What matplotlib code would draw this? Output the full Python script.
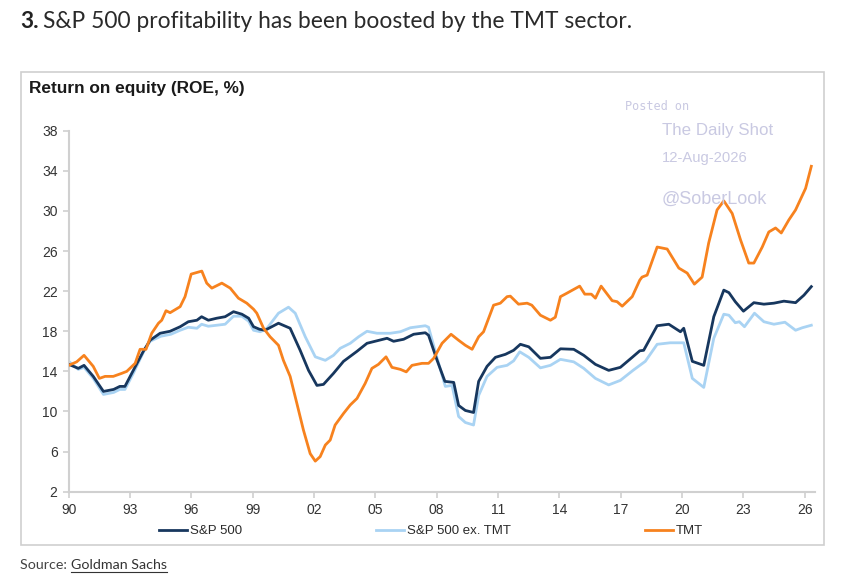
import matplotlib.pyplot as plt
from matplotlib.patches import Rectangle
from matplotlib.lines import Line2D

# ROE, % (decimal years)
sp_years = [1990.0, 1990.47, 1990.75, 1991.2, 1991.7, 1992.2, 1992.5, 1992.75, 1993.16, 1993.65,
            1993.98, 1994.47, 1994.96, 1995.45, 1995.85, 1996.27, 1996.5, 1996.83, 1997.24, 1997.65,
            1998.06, 1998.47, 1998.8, 1999.04, 1999.33, 1999.6, 2000.26, 2000.83, 2001.32, 2001.73,
            2002.14, 2002.46, 2002.95, 2003.44, 2004.1, 2004.59, 2005.08, 2005.57, 2005.89, 2006.38,
            2006.87, 2007.44, 2007.6, 2008.0, 2008.4, 2008.83, 2009.07, 2009.4, 2009.8,
            2010.05, 2010.46, 2010.87, 2011.36, 2011.76, 2012.09, 2012.5, 2013.07, 2013.56, 2014.05,
            2014.7, 2015.19, 2015.76, 2016.41, 2016.98, 2017.56, 2017.93, 2018.12, 2018.78, 2019.35,
            2019.92, 2020.08, 2020.5, 2021.06, 2021.55, 2022.04, 2022.29, 2022.6, 2023.0, 2023.51,
            2024.0, 2024.49, 2024.98, 2025.55, 2025.96, 2026.32]
sp_roe = [14.7, 14.3, 14.6, 13.5, 12.0, 12.2, 12.5, 12.5, 14.1, 16.0,
          17.1, 17.8, 18.0, 18.45, 18.95, 19.1, 19.45, 19.1, 19.3, 19.45,
          19.95, 19.7, 19.3, 18.45, 18.2, 18.1, 18.8, 18.3, 16.1, 14.1,
          12.6, 12.7, 13.8, 15.0, 16.0, 16.8, 17.05, 17.3, 17.0, 17.2,
          17.7, 17.85, 17.6, 15.2, 13.0, 12.9, 10.6, 10.1, 9.9,
          13.0, 14.5, 15.4, 15.7, 16.1, 16.7, 16.45, 15.3, 15.4, 16.25,
          16.2, 15.6, 14.7, 14.1, 14.4, 15.4, 16.05, 16.1, 18.55, 18.7,
          17.95, 18.3, 15.0, 14.6, 19.45, 22.1, 21.85, 20.95, 20.0, 20.85,
          20.7, 20.8, 21.0, 20.85, 21.6, 22.45]

ex_years = [1990.0, 1990.47, 1990.75, 1991.2, 1991.7, 1992.2, 1992.5, 1992.75, 1993.16, 1993.65,
            1993.98, 1994.5, 1995.0, 1995.45, 1995.85, 1996.27, 1996.5, 1996.83, 1997.24, 1997.65,
            1998.06, 1998.47, 1998.8, 1999.04, 1999.37, 1999.7, 2000.26, 2000.75, 2001.08, 2001.57,
            2002.06, 2002.55, 2002.95, 2003.28, 2003.77, 2004.18, 2004.59, 2005.08, 2005.73, 2006.22,
            2006.71, 2007.44, 2007.6, 2008.0, 2008.42, 2008.75, 2009.07, 2009.4, 2009.8, 2010.05,
            2010.46, 2010.95, 2011.44, 2011.76, 2012.06, 2012.5, 2013.07, 2013.56, 2014.05, 2014.7,
            2015.19, 2015.76, 2016.41, 2016.98, 2017.6, 2018.2, 2018.78, 2019.42, 2020.08, 2020.5,
            2021.06, 2021.55, 2022.04, 2022.29, 2022.6, 2022.8, 2023.05, 2023.54, 2024.0, 2024.49,
            2025.03, 2025.55, 2025.88, 2026.32]
ex_roe = [15.0, 14.2, 14.4, 13.3, 11.7, 11.9, 12.2, 12.2, 13.8, 15.9,
          17.0, 17.5, 17.7, 18.1, 18.4, 18.3, 18.7, 18.5, 18.6, 18.7,
          19.5, 19.5, 19.0, 18.1, 17.95, 18.3, 19.8, 20.4, 19.8, 17.45,
          15.45, 15.1, 15.6, 16.3, 16.8, 17.45, 18.0, 17.8, 17.8, 17.95,
          18.35, 18.55, 18.4, 15.45, 12.5, 12.6, 9.5, 8.9, 8.65, 11.6,
          13.5, 14.4, 14.6, 15.05, 15.95, 15.4, 14.35, 14.6, 15.2, 14.95,
          14.3, 13.3, 12.65, 13.1, 14.1, 15.0, 16.7, 16.85, 16.85, 13.3,
          12.4, 17.3, 19.7, 19.6, 18.85, 18.95, 18.45, 19.8, 18.95, 18.7,
          18.9, 18.1, 18.35, 18.6]

tmt_years = [1990.0, 1990.39, 1990.75, 1991.2, 1991.5, 1991.78, 1992.18, 1992.59, 1992.84, 1993.25,
             1993.49, 1993.78, 1994.06, 1994.39, 1994.55, 1994.76, 1994.96, 1995.45, 1995.69, 1995.99,
             1996.51, 1996.75, 1997.0, 1997.49, 1997.9, 1998.3, 1998.71, 1999.04, 1999.2, 1999.53,
             1999.85, 2000.26, 2000.5, 2000.83, 2001.16, 2001.48, 2001.81, 2002.06, 2002.3, 2002.55,
             2002.79, 2003.03, 2003.44, 2003.77, 2004.1, 2004.5, 2004.83, 2005.15, 2005.52, 2005.81,
             2006.22, 2006.51, 2006.79, 2007.28, 2007.6, 2007.85, 2008.26, 2008.7, 2009.07, 2009.4,
             2009.73, 2010.05, 2010.29, 2010.78, 2011.11, 2011.44, 2011.6, 2012.0, 2012.42, 2012.65,
             2013.07, 2013.56, 2013.8, 2014.05, 2014.37, 2014.99, 2015.24, 2015.56, 2015.76, 2016.04,
             2016.58, 2016.82, 2017.07, 2017.56, 2017.93, 2018.04, 2018.29, 2018.78, 2019.27, 2019.84,
             2020.25, 2020.6, 2020.98, 2021.3, 2021.71, 2022.04, 2022.45, 2022.86, 2023.26, 2023.51,
             2023.92, 2024.24, 2024.57, 2024.85, 2025.22, 2025.55, 2026.04, 2026.32]
tmt_roe = [14.6, 14.95, 15.6, 14.5, 13.3, 13.5, 13.5, 13.8, 14.0, 14.8,
           16.2, 16.2, 17.8, 18.8, 19.1, 20.05, 19.85, 20.45, 21.45, 23.7,
           24.0, 22.8, 22.3, 22.8, 22.3, 21.3, 20.8, 20.2, 19.8, 18.3,
           17.45, 16.6, 15.1, 13.5, 10.8, 8.15, 5.8, 5.05, 5.5, 6.65,
           7.15, 8.65, 9.8, 10.65, 11.3, 12.8, 14.3, 14.7, 15.45, 14.4,
           14.2, 13.95, 14.6, 14.8, 14.8, 15.3, 16.8, 17.7, 17.1, 16.6,
           16.2, 17.45, 17.95, 20.6, 20.8, 21.45, 21.5, 20.7, 20.8, 20.6,
           19.6, 19.1, 19.4, 21.45, 21.8, 22.5, 21.7, 21.7, 21.3, 22.5,
           21.05, 20.95, 20.5, 21.45, 23.1, 23.4, 23.6, 26.4, 26.2, 24.3,
           23.8, 22.7, 23.4, 26.8, 30.1, 31.0, 29.75, 27.1, 24.8, 24.8,
           26.4, 27.9, 28.3, 27.8, 29.1, 30.1, 32.25, 34.45]

x_ticks = [1990, 1993, 1996, 1999, 2002, 2005, 2008, 2011, 2014, 2017, 2020, 2023, 2026]
x_labels = ["90", "93", "96", "99", "02", "05", "08", "11", "14", "17", "20", "23", "26"]
y_ticks = [2, 6, 10, 14, 18, 22, 26, 30, 34, 38]

W, H = 860, 581
fig = plt.figure(figsize=(W / 100, H / 100), dpi=100)
fig.patch.set_facecolor("white")

# chart panel border
fig.patches.append(Rectangle((20.5 / W, 1 - 545 / H), (824 - 20.5) / W, (545 - 71.5) / H,
                             transform=fig.transFigure, facecolor="none",
                             edgecolor="#cfcfcf", linewidth=1.2, zorder=-1))

ax = fig.add_axes([68.7 / W, 1 - 491.7 / H, (815 - 68.7) / W, (491.7 - 130.7) / H])
ax.set_facecolor("none")

ax.plot(ex_years, ex_roe, color="#a9d3f3", lw=2.0, label="S&P 500 ex. TMT", zorder=2)
ax.plot(sp_years, sp_roe, color="#17375e", lw=2.0, label="S&P 500", zorder=3)
ax.plot(tmt_years, tmt_roe, color="#f7821e", lw=2.0, label="TMT", zorder=4)

ax.set_xlim(1990, 2026.5)
ax.set_ylim(2, 38)
ax.set_xticks(x_ticks)
ax.set_xticklabels(x_labels)
ax.set_yticks(y_ticks)
for s in ["top", "right"]:
    ax.spines[s].set_visible(False)
for s in ["left", "bottom"]:
    ax.spines[s].set_color("#d0d0d0")
    ax.spines[s].set_linewidth(1.5)
ax.tick_params(axis="both", colors="#d0d0d0", labelcolor="#333333", length=4, width=1.2,
               labelsize=10, pad=4)
for lab in ax.get_xticklabels() + ax.get_yticklabels():
    lab.set_fontfamily("Liberation Sans")

handles, labels = ax.get_legend_handles_labels()
order = [1, 0, 2]
fig.legend([handles[i] for i in order], [labels[i] for i in order],
           loc="center", bbox_to_anchor=(431 / W, 1 - 531 / H), ncol=3, frameon=False,
           prop={"family": "Liberation Sans", "size": 9.5}, labelcolor="#2a2a2a",
           handlelength=2.1, handletextpad=0.2, columnspacing=10.2)

# chart title
fig.text(29 / W, 1 - 88 / H, "Return on equity (ROE, %)", fontsize=12.4, fontweight="bold",
         family="Liberation Sans", color="#1a1a1a", va="center", ha="left")

# watermark
wm = "#c9c9e2"
fig.text(625 / W, 1 - 107 / H, "Posted on", family="DejaVu Sans Mono", fontsize=8.6, color=wm,
         va="center")
fig.text(662 / W, 1 - 130 / H, "The Daily Shot", family="Liberation Sans", fontsize=12.2, color=wm,
         va="center")
fig.text(662 / W, 1 - 158 / H, "12-Aug-2026", family="Liberation Sans", fontsize=10.6, color=wm,
         va="center")
fig.text(662 / W, 1 - 199 / H, "@SoberLook", family="Liberation Sans", fontsize=13, color=wm,
         va="center")

# page title and source
t1 = fig.text(20 / W, 1 - 22 / H, "3.", fontsize=16.4, fontweight="bold", family="Lato",
              color="#222222", va="center")
fig.canvas.draw()
bb = t1.get_window_extent()
fig.text((bb.x1 + 4) / W, 1 - 22 / H, "S&P 500 profitability has been boosted by the TMT sector.",
         fontsize=16.4, family="Lato", color="#2a2a2a", va="center")

s1 = fig.text(20 / W, 1 - 565 / H, "Source: ", fontsize=10.3, family="Lato", color="#444444",
              va="center")
fig.canvas.draw()
bb = s1.get_window_extent()
s2 = fig.text(bb.x1 / W, 1 - 565 / H, "Goldman Sachs", fontsize=10.3, family="Lato",
              color="#333333", va="center")
fig.canvas.draw()
bb2 = s2.get_window_extent()
fig.lines.append(Line2D([bb2.x0 / W, bb2.x1 / W], [(bb2.y0 - 1) / H] * 2,
                        transform=fig.transFigure, color="#333333", lw=0.8))

fig.savefig("out.png", dpi=100)
